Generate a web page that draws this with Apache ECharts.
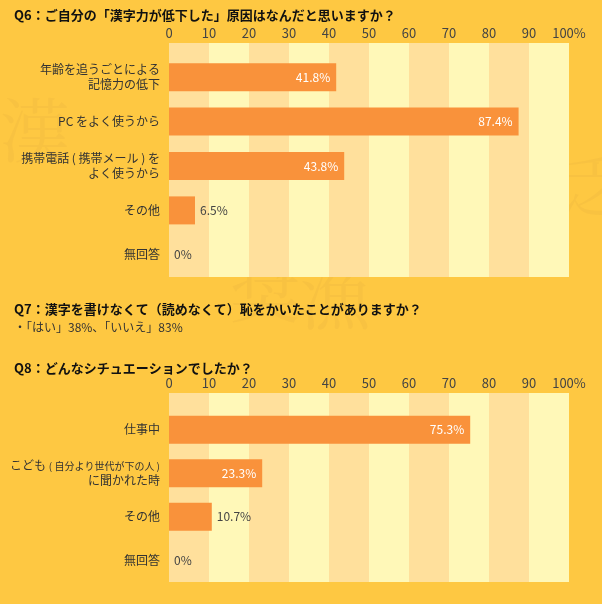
<!DOCTYPE html>
<html>
<head>
<meta charset="utf-8">
<script src="https://cdn.jsdelivr.net/npm/echarts@6/dist/echarts.min.js"></script>
<style>
  html, body { margin: 0; padding: 0; background: #FEC842; }
  #chart { width: 602px; height: 604px; }
</style>
</head>
<body>
<div id="chart"></div>
<script>
const q6Categories = ['年齢を追うごとによる\n記憶力の低下', 'PC をよく使うから', '携帯電話 ( 携帯メール ) を\nよく使うから', 'その他', '無回答'];
const q6Values = [41.8, 87.4, 43.8, 6.5, 0];
const q8Categories = ['仕事中', 'こども ( 自分より世代が下の人 )\nに聞かれた時', 'その他', '無回答'];
const q8Values = [75.3, 23.3, 10.7, 0];
const tickLabels = ['0', '10', '20', '30', '40', '50', '60', '70', '80', '90', '100%'];

const FONT = '"Noto Sans CJK JP", sans-serif';
const BAR = '#F9923B';

const chart = echarts.init(document.getElementById('chart'));

function stripeAxis(gridIndex) {
  return {
    type: 'value', gridIndex, min: 0, max: 100, interval: 10, position: 'top',
    axisLine: { show: false }, axisTick: { show: false }, splitLine: { show: false },
    splitArea: { show: true, areaStyle: { color: ['#FFE09C', '#FFF8B8'] } },
    axisLabel: {
      color: '#444', fontSize: 13, fontFamily: FONT, margin: 3,
      formatter: v => tickLabels[v / 10]
    }
  };
}
function barAxis(gridIndex) {
  return { type: 'value', gridIndex, min: 0, max: 100, show: false };
}
function catAxis(gridIndex, cats, show, smallParens) {
  return {
    type: 'category', gridIndex, data: cats, inverse: true, show,
    axisLine: { show: false }, axisTick: { show: false },
    axisLabel: {
      color: '#333', fontSize: 12, fontFamily: FONT, margin: 9, lineHeight: 15, align: 'right',
      // Q8's long parenthetical is set smaller, as in the original
      formatter: s => smallParens ? s.replace(/\(([^)]*)\)/, '{s|($1)}') : s,
      rich: { s: { fontSize: 10, fontFamily: FONT, color: '#333', lineHeight: 15 } }
    }
  };
}
function barSeries(idx, values) {
  return {
    type: 'bar', xAxisIndex: idx, yAxisIndex: idx, barWidth: 28, z: 3,
    itemStyle: { color: BAR },
    data: values.map(v => ({
      value: v,
      label: v >= 20
        ? { show: true, position: 'insideRight', color: '#fff', fontSize: 12, fontFamily: FONT, formatter: '{c}%', distance: 6 }
        : { show: true, position: 'right', color: '#444', fontSize: 12, fontFamily: FONT, formatter: '{c}%', distance: 5 }
    }))
  };
}

const mark = (text, left, top, size) => ({
  type: 'text', left, top, z: 0, silent: true,
  style: { text, fontSize: size, fontFamily: '"Noto Serif CJK JP", serif', fill: 'rgba(200,150,60,0.1)' }
});
const title = (text, top, bold) => ({
  type: 'text', left: 14, top, z: 10,
  style: { text, fontSize: bold ? 13 : 12, fontWeight: bold ? 'bold' : 'normal', fontFamily: FONT, fill: bold ? '#111' : '#333' }
});
const grid = (top, bottom) => ({ left: 169, right: 33, top, bottom: 604 - bottom, outerBoundsMode: 'none', containLabel: false });

chart.setOption({
  backgroundColor: '#FEC842',
  animation: false,
  grid: [grid(43, 277), grid(55, 277), grid(393, 582), grid(408, 582)],
  xAxis: [stripeAxis(0), barAxis(1), stripeAxis(2), barAxis(3)],
  yAxis: [
    catAxis(0, ['a'], false, false), catAxis(1, q6Categories, true, false),
    catAxis(2, ['a'], false, false), catAxis(3, q8Categories, true, true)
  ],
  series: [barSeries(1, q6Values), barSeries(3, q8Values)],
  graphic: [
    mark('漢', 0, 95, 70), mark('奨', 230, 255, 70), mark('漁', 300, 262, 70), mark('乏', 560, 150, 70),
    title('Q6：ご自分の「漢字力が低下した」原因はなんだと思いますか？', 9, true),
    title('Q7：漢字を書けなくて（読めなくて）恥をかいたことがありますか？', 303, true),
    title('・「はい」38%、「いいえ」83%', 321, false),
    title('Q8：どんなシチュエーションでしたか？', 362, true)
  ]
});
</script>
</body>
</html>
